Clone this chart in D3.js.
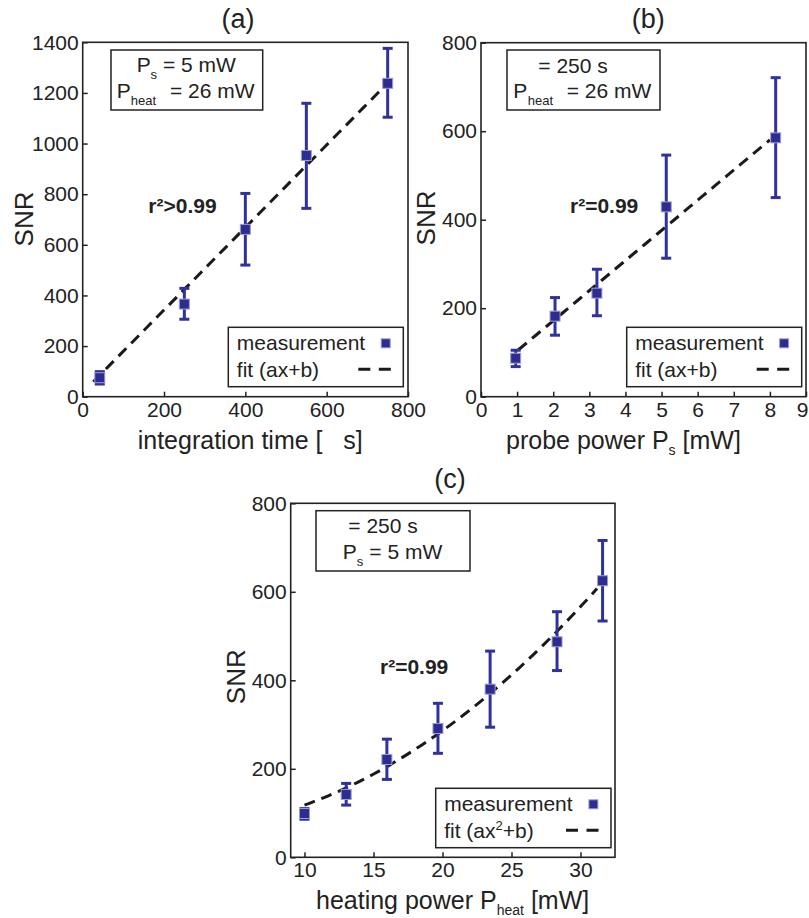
<!DOCTYPE html>
<html>
<head>
<meta charset="utf-8">
<script src="https://cdn.jsdelivr.net/npm/d3@7/dist/d3.min.js"></script>
<style>
  html, body { margin: 0; padding: 0; background: #fff; }
  svg { display: block; }
  svg text { font-family: "Liberation Sans", Arial, Helvetica, sans-serif; }
</style>
</head>
<body>
<svg id="chart" width="809" height="918"></svg>
<script>
// ---------- DATA ----------
// (a) SNR vs integration time
const aX   = [42, 250, 400, 550, 750];
const aY   = [75, 366, 661, 953, 1238];
const aLo  = [50, 306, 520, 744, 1104];
const aHi  = [99, 428, 803, 1159, 1376];
const aFit = { a: 1.63, b: 16.6, from: 26, to: 750 };     // ax+b
const aXTicks = [0, 200, 400, 600, 800];
const aYTicks = [0, 200, 400, 600, 800, 1000, 1200, 1400];

// (b) SNR vs probe power
const bX   = [0.96, 2.05, 3.21, 5.13, 8.16];
const bY   = [87, 182, 234, 429, 585];
const bLo  = [68, 139, 183, 313, 450];
const bHi  = [105, 224, 288, 546, 721];
const bFit = { a: 68.1, b: 35.4, from: 1.03, to: 8.0 };  // ax+b
const bXTicks = [0, 1, 2, 3, 4, 5, 6, 7, 8, 9];
const bYTicks = [0, 200, 400, 600, 800];

// (c) SNR vs heating power
const cX   = [10, 13.02, 15.97, 19.67, 23.45, 28.3, 31.6];
const cY   = [99, 142, 221, 291, 380, 487, 625];
const cLo  = [86, 118, 176, 235, 294, 422, 534];
const cHi  = [110, 167, 267, 348, 466, 555, 716];
const cFit = { a: 0.5604, b: 62, from: 10, to: 31.2 };   // ax^2+b
const cXTicks = [10, 15, 20, 25, 30];
const cYTicks = [0, 200, 400, 600, 800];

const titles = ["(a)", "(b)", "(c)"];
const rTexts = ["r\u00B2>0.99", "r\u00B2=0.99", "r\u00B2=0.99"];

// ---------- STYLE ----------
const BLUE = "#31319b";
const MFILL = "#2d2d8f";
const MSTROKE = "#9c9cd6";
const AX = "#222";
const TICKFONT = 21;
const WIDTH = 809;

const svg = d3.select("#chart");

function panel(cfg) {
  const g = svg.append("g");
  const x = d3.scaleLinear().domain(cfg.xd).range([cfg.L, cfg.R]);
  const y = d3.scaleLinear().domain(cfg.yd).range([cfg.B, cfg.T]);

  // axes
  const fmt = d3.format("d");
  const xa = d3.axisBottom(x).tickValues(cfg.xt).tickFormat(fmt).tickSizeInner(-5).tickSizeOuter(0).tickPadding(5);
  const ya = d3.axisLeft(y).tickValues(cfg.yt).tickFormat(fmt).tickSizeInner(-5).tickSizeOuter(0).tickPadding(4);
  const gx = g.append("g").attr("transform", `translate(0,${cfg.B})`).call(xa);
  const gy = g.append("g").attr("transform", `translate(${cfg.L},0)`).call(ya);
  [gx, gy].forEach(a => {
    a.select(".domain").remove();
    a.selectAll("line").attr("stroke", AX).attr("stroke-width", 1.5);
    a.selectAll("text").attr("font-size", TICKFONT).attr("fill", "#222");
  });
  // keep a label that would run past the right edge inside the picture
  gx.selectAll("text").each(function(d) {
    const bb = this.getBBox();
    const right = x(d) + bb.x + bb.width;
    if (right > WIDTH - 1) d3.select(this).attr("dx", (WIDTH - 1 - right).toFixed(1));
  });

  // fit line
  const n = 60;
  const pts = d3.range(n + 1).map(i => {
    const xv = cfg.fit.from + (cfg.fit.to - cfg.fit.from) * i / n;
    const yv = cfg.quad ? cfg.fit.a * xv * xv + cfg.fit.b : cfg.fit.a * xv + cfg.fit.b;
    return [xv, yv];
  });
  g.append("path")
    .attr("d", d3.line().x(d => x(d[0])).y(d => y(d[1]))(pts))
    .attr("fill", "none").attr("stroke", "#1a1a1a").attr("stroke-width", 3)
    .attr("stroke-dasharray", "11,7");

  // error bars
  const data = cfg.xs.map((v, i) => ({ x: v, y: cfg.ys[i], lo: cfg.lo[i], hi: cfg.hi[i] }));
  const eb = g.append("g").attr("stroke", BLUE).attr("stroke-width", 3).attr("fill", "none");
  data.forEach(d => {
    eb.append("line").attr("x1", x(d.x)).attr("x2", x(d.x)).attr("y1", y(d.lo)).attr("y2", y(d.hi));
    eb.append("line").attr("x1", x(d.x) - 5).attr("x2", x(d.x) + 5).attr("y1", y(d.lo)).attr("y2", y(d.lo));
    eb.append("line").attr("x1", x(d.x) - 5).attr("x2", x(d.x) + 5).attr("y1", y(d.hi)).attr("y2", y(d.hi));
  });
  // markers
  g.append("g").selectAll("rect").data(data).join("rect")
    .attr("x", d => x(d.x) - 5).attr("y", d => y(d.y) - 5)
    .attr("width", 10).attr("height", 10)
    .attr("fill", MFILL).attr("stroke", MSTROKE).attr("stroke-width", 1);

  // frame
  g.append("rect").attr("x", cfg.L).attr("y", cfg.T)
    .attr("width", cfg.R - cfg.L).attr("height", cfg.B - cfg.T)
    .attr("fill", "none").attr("stroke", AX).attr("stroke-width", 1.6);

  // title
  g.append("text").attr("x", cfg.titleX).attr("y", cfg.titleY)
    .attr("text-anchor", "middle").attr("font-size", 27).attr("fill", "#222").text(cfg.title);

  // y label
  g.append("text").attr("transform", `translate(${cfg.ylX},${cfg.ylY}) rotate(-90)`)
    .attr("text-anchor", "middle").attr("font-size", 26).attr("fill", "#222").text("SNR");

  // x label
  const xl = g.append("text").attr("x", cfg.xlX).attr("y", cfg.xlY)
    .attr("font-size", 25).attr("fill", "#222");
  xl.append("tspan").text(cfg.xlabel[0]);
  if (cfg.xlabel.length > 1) {
    xl.append("tspan").attr("font-size", 14).attr("dy", 6).text(cfg.xlabel[1]);
    xl.append("tspan").attr("dy", -6).text(cfg.xlabel[2]);
  }

  // r^2 text
  g.append("text").attr("x", cfg.rX).attr("y", cfg.rY)
    .attr("font-size", 21).attr("font-weight", "bold").attr("fill", "#222")
    .text(cfg.rText);

  // annotation box
  const bx = cfg.box;
  g.append("rect").attr("x", bx.x0).attr("y", bx.y0).attr("width", bx.x1 - bx.x0).attr("height", bx.y1 - bx.y0)
    .attr("fill", "#fff").attr("stroke", AX).attr("stroke-width", 1.5);
  bx.lines.forEach(ln => {
    const t = g.append("text").attr("y", ln.by).attr("font-size", 21).attr("fill", "#222");
    if (ln.p !== undefined) {
      t.append("tspan").attr("x", ln.p).text("P");
      t.append("tspan").attr("x", ln.sx).attr("dy", 7).attr("font-size", 13).text(ln.sub);
      t.append("tspan").attr("x", ln.ex).attr("dy", -7).text(ln.rest);
    } else {
      t.append("tspan").attr("x", ln.ex).text(ln.rest);
    }
  });

  // legend
  const lg = cfg.leg;
  g.append("rect").attr("x", lg.x0).attr("y", lg.y0).attr("width", lg.x1 - lg.x0).attr("height", lg.y1 - lg.y0)
    .attr("fill", "#fff").attr("stroke", AX).attr("stroke-width", 1.5);
  g.append("text").attr("x", lg.x0 + 8.5).attr("y", lg.y0 + 22.5)
    .attr("font-size", 21).attr("fill", "#222").text("measurement");
  g.append("rect").attr("x", lg.x1 - 17.6 - 4.5).attr("y", lg.y0 + 16 - 4.5)
    .attr("width", 9).attr("height", 9).attr("fill", MFILL).attr("stroke", MSTROKE).attr("stroke-width", 1);
  const ft = g.append("text").attr("x", lg.x0 + 8.5).attr("y", lg.y0 + 49.5)
    .attr("font-size", 21).attr("fill", "#222");
  if (cfg.quad) {
    ft.append("tspan").text("fit (ax");
    ft.append("tspan").attr("font-size", 13).attr("dy", -8).text("2");
    ft.append("tspan").attr("dy", 8).text("+b)");
  } else {
    ft.text("fit (ax+b)");
  }
  g.append("line").attr("x1", lg.x1 - 45).attr("x2", lg.x1 - 12.5)
    .attr("y1", lg.y0 + 42).attr("y2", lg.y0 + 42)
    .attr("stroke", "#1a1a1a").attr("stroke-width", 3).attr("stroke-dasharray", "12,8.5");
}

panel({
  L: 82.7, R: 408, T: 42.3, B: 396.7, xd: [0, 800], yd: [0, 1400],
  xt: aXTicks, yt: aYTicks, xs: aX, ys: aY, lo: aLo, hi: aHi, fit: aFit, quad: false,
  title: titles[0], titleX: 238, titleY: 27.6,
  ylX: 32.7, ylY: 219,
  xlabel: ["integration time [\u00a0\u00a0 s]"], xlX: 137.7, xlY: 449,
  rText: rTexts[0], rX: 148.3, rY: 213.3,
  box: { x0: 111, y0: 50, x1: 262.7, y1: 110, lines: [
    { by: 71.7, p: 136.7, sx: 150.5, sub: "s", ex: 163, rest: "= 5 mW" },
    { by: 97.7, p: 116.7, sx: 130.7, sub: "heat", ex: 170, rest: "= 26 mW" } ] },
  leg: { x0: 228.3, y0: 327.3, x1: 403.3, y1: 386.7 }
});

panel({
  L: 481, R: 806, T: 42.7, B: 396.7, xd: [0, 9], yd: [0, 800],
  xt: bXTicks, yt: bYTicks, xs: bX, ys: bY, lo: bLo, hi: bHi, fit: bFit, quad: false,
  title: titles[1], titleX: 648.3, titleY: 27.6,
  ylX: 435, ylY: 218,
  xlabel: ["probe power P", "s", " [mW]"], xlX: 506, xlY: 449,
  rText: rTexts[1], rX: 570, rY: 213.3,
  box: { x0: 507, y0: 50, x1: 660, y1: 110, lines: [
    { by: 72.7, ex: 538.3, rest: "= 250 s" },
    { by: 97.7, p: 513.3, sx: 527.7, sub: "heat", ex: 566.7, rest: "= 26 mW" } ] },
  leg: { x0: 626.7, y0: 327.3, x1: 801.7, y1: 386.7 }
});

panel({
  L: 290.7, R: 615, T: 503.3, B: 857.3, xd: [9, 32.5], yd: [0, 800],
  xt: cXTicks, yt: cYTicks, xs: cX, ys: cY, lo: cLo, hi: cHi, fit: cFit, quad: true,
  title: titles[2], titleX: 450, titleY: 487.6,
  ylX: 245, ylY: 676.7,
  xlabel: ["heating power P", "heat", " [mW]"], xlX: 316, xlY: 909,
  rText: rTexts[2], rX: 380, rY: 674,
  box: { x0: 316, y0: 510.7, x1: 470, y1: 571, lines: [
    { by: 533.3, ex: 348.3, rest: "= 250 s" },
    { by: 559, p: 342.7, sx: 356.7, sub: "s", ex: 369.3, rest: "= 5 mW" } ] },
  leg: { x0: 435.7, y0: 788.3, x1: 611, y1: 847.7 }
});
</script>
</body>
</html>
